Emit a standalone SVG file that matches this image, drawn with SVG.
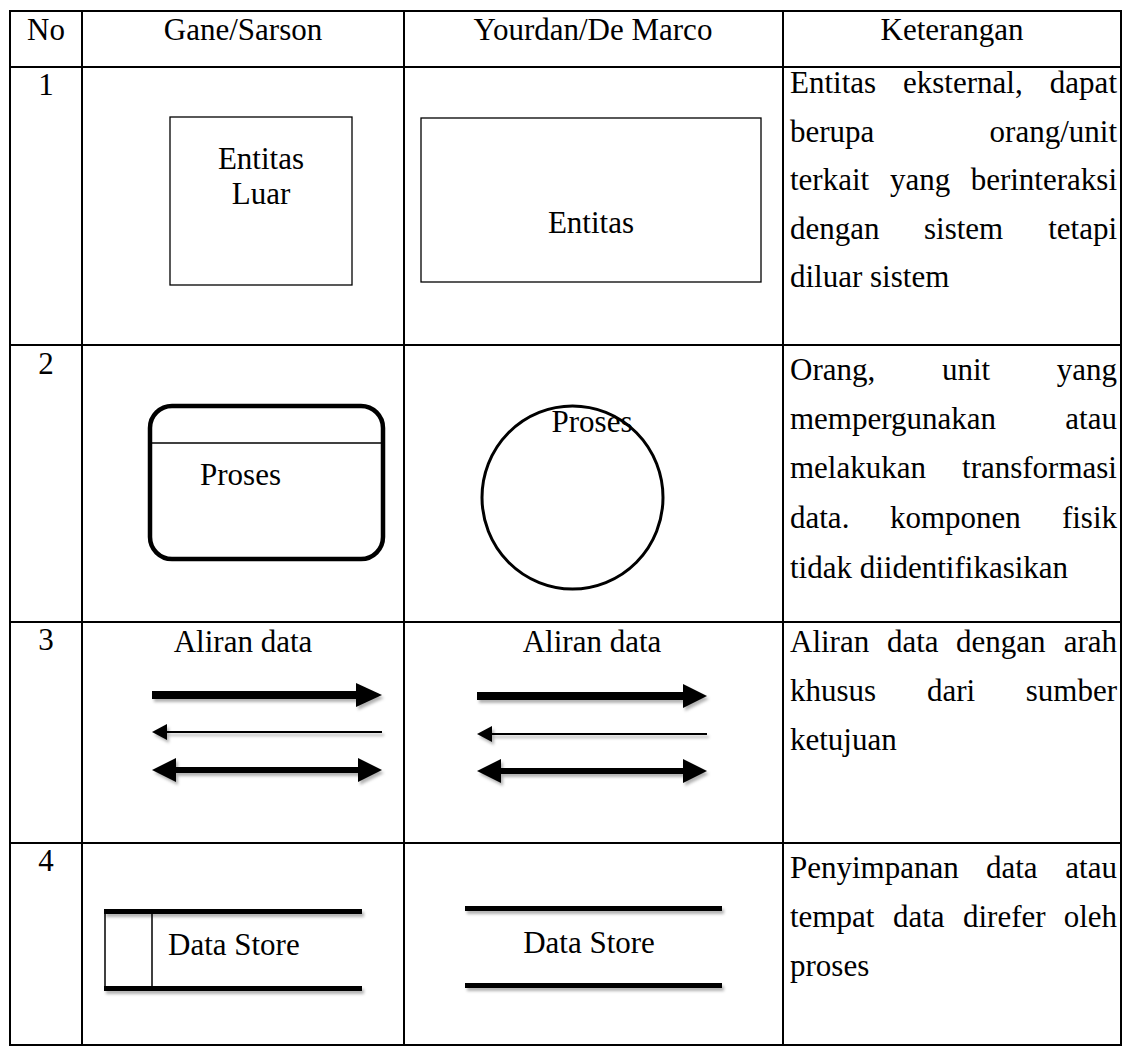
<svg xmlns="http://www.w3.org/2000/svg" width="1122" height="1046" viewBox="0 0 1122 1046">
<style>
text{font-family:"Liberation Serif","Times New Roman",Times,serif;font-size:31px;fill:#000}
.c{text-anchor:middle}
.e{text-anchor:end}
.grid line{stroke:#000;stroke-width:2}
.thin{fill:none;stroke:#000;stroke-width:1.3}
.bar{fill:#000}
</style>
<defs>
<filter id="sh" x="-10%" y="-50%" width="120%" height="200%">
<feDropShadow dx="2" dy="3" stdDeviation="1.5" flood-color="#000" flood-opacity="0.3"/>
</filter>
</defs>
<rect width="1122" height="1046" fill="#fff"/>
<g id="table" class="grid">
<line x1="9" y1="11" x2="1122" y2="11"/>
<line x1="9" y1="67" x2="1122" y2="67"/>
<line x1="9" y1="345" x2="1122" y2="345"/>
<line x1="9" y1="622" x2="1122" y2="622"/>
<line x1="9" y1="843" x2="1122" y2="843"/>
<line x1="9" y1="1045" x2="1122" y2="1045"/>
<line x1="10" y1="10" x2="10" y2="1046"/>
<line x1="82" y1="10" x2="82" y2="1046"/>
<line x1="404" y1="10" x2="404" y2="1046"/>
<line x1="783" y1="10" x2="783" y2="1046"/>
<line x1="1121" y1="10" x2="1121" y2="1046"/>
</g>
<g id="header">
<text class="c" x="46" y="40">No</text>
<text class="c" x="243" y="40">Gane/Sarson</text>
<text class="c" x="593" y="40">Yourdan/De Marco</text>
<text class="c" x="952" y="40">Keterangan</text>
</g>
<g id="numbers">
<text class="c" x="46" y="95">1</text>
<text class="c" x="46" y="374">2</text>
<text class="c" x="46" y="650">3</text>
<text class="c" x="46" y="871">4</text>
</g>
<g id="gs-entitas">
<rect class="thin" x="170" y="117" width="182" height="168"/>
<text class="c" x="261" y="169">Entitas</text>
<text class="c" x="261" y="204">Luar</text>
</g>
<g id="yd-entitas">
<rect class="thin" x="421" y="118" width="340" height="164"/>
<text class="c" x="591" y="233">Entitas</text>
</g>
<g id="gs-proses">
<rect x="150" y="406" width="233" height="153" rx="22" fill="none" stroke="#000" stroke-width="4.5"/>
<line x1="150" y1="443" x2="383" y2="443" stroke="#000" stroke-width="1.5"/>
<text x="200" y="485">Proses</text>
</g>
<g id="yd-proses">
<ellipse cx="572.5" cy="497.5" rx="90.5" ry="91.5" fill="none" stroke="#000" stroke-width="3"/>
<text class="c" x="592" y="432">Proses</text>
</g>
<g id="gs-aliran">
<text class="c" x="243" y="652">Aliran data</text>
</g>
<g id="yd-aliran">
<text class="c" x="592" y="652">Aliran data</text>
</g>
<g id="connectors" filter="url(#sh)">
<rect class="bar" x="152" y="691" width="206" height="8"/>
<polygon class="bar" points="356,683 382,695 356,707"/>
<line x1="165" y1="732" x2="382" y2="732" stroke="#000" stroke-width="2"/>
<polygon class="bar" points="152,732 167,724 167,740"/>
<rect class="bar" x="174" y="767" width="186" height="6"/>
<polygon class="bar" points="152,770 176,758 176,782"/>
<polygon class="bar" points="382,770 358,758 358,782"/>
<rect class="bar" x="477" y="692" width="208" height="8"/>
<polygon class="bar" points="683,684 707,696 683,708"/>
<line x1="490" y1="734" x2="707" y2="734" stroke="#000" stroke-width="2"/>
<polygon class="bar" points="477,734 492,726 492,742"/>
<rect class="bar" x="499" y="768" width="186" height="6"/>
<polygon class="bar" points="477,771 501,759 501,783"/>
<polygon class="bar" points="707,771 683,759 683,783"/>
</g>
<g id="gs-datastore">
<g filter="url(#sh)">
<rect class="bar" x="104" y="909" width="258" height="5"/>
<rect class="bar" x="104" y="986" width="258" height="5"/>
</g>
<line x1="105" y1="911" x2="105" y2="988" stroke="#000" stroke-width="1.5"/>
<line x1="152" y1="911" x2="152" y2="988" stroke="#000" stroke-width="1.5"/>
<text x="168" y="955">Data Store</text>
</g>
<g id="yd-datastore">
<g filter="url(#sh)">
<rect class="bar" x="465" y="906" width="257" height="5"/>
<rect class="bar" x="465" y="983" width="257" height="5"/>
</g>
<text class="c" x="589" y="953">Data Store</text>
</g>
<g id="ket-1">
<text x="790" y="93">Entitas</text>
<text x="903" y="93">eksternal,</text>
<text class="e" x="1117" y="93">dapat</text>
<text x="790" y="142">berupa</text>
<text class="e" x="1117" y="142">orang/unit</text>
<text x="790" y="190">terkait</text>
<text x="890" y="190">yang</text>
<text class="e" x="1117" y="190">berinteraksi</text>
<text x="790" y="239">dengan</text>
<text x="924" y="239">sistem</text>
<text class="e" x="1117" y="239">tetapi</text>
<text x="790" y="287">diluar sistem</text>
</g>
<g id="ket-2">
<text x="790" y="380">Orang,</text>
<text x="942" y="380">unit</text>
<text class="e" x="1117" y="380">yang</text>
<text x="790" y="429">mempergunakan</text>
<text class="e" x="1117" y="429">atau</text>
<text x="790" y="478">melakukan</text>
<text class="e" x="1117" y="478">transformasi</text>
<text x="790" y="528">data.</text>
<text x="890" y="528">komponen</text>
<text class="e" x="1117" y="528">fisik</text>
<text x="790" y="578">tidak diidentifikasikan</text>
</g>
<g id="ket-3">
<text x="790" y="652">Aliran</text>
<text x="887" y="652">data</text>
<text x="956" y="652">dengan</text>
<text class="e" x="1117" y="652">arah</text>
<text x="790" y="701">khusus</text>
<text x="927" y="701">dari</text>
<text class="e" x="1117" y="701">sumber</text>
<text x="790" y="750">ketujuan</text>
</g>
<g id="ket-4">
<text x="790" y="878">Penyimpanan</text>
<text x="986" y="878">data</text>
<text class="e" x="1117" y="878">atau</text>
<text x="790" y="927">tempat</text>
<text x="893" y="927">data</text>
<text x="963" y="927">direfer</text>
<text class="e" x="1117" y="927">oleh</text>
<text x="790" y="976">proses</text>
</g>
</svg>
